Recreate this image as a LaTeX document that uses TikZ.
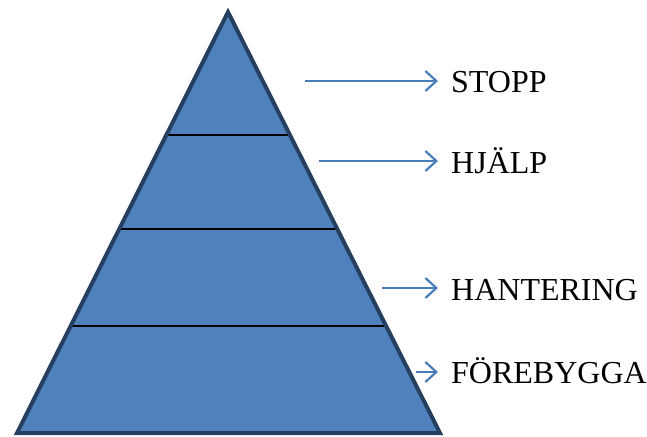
\documentclass[tikz,border=0pt]{standalone}
\usepackage{fontspec}
\setmainfont{Liberation Serif}
\usetikzlibrary{arrows.meta}
\definecolor{pfill}{HTML}{4F81BD}
\definecolor{pedge}{HTML}{243F60}
\definecolor{parrow}{HTML}{4A7EBB}
\tikzset{
  pyr/.style={fill=pfill,draw=pedge,line width=4pt,line join=miter},
  level/.style={draw=black,line width=2pt},
  lab/.style={anchor=base west,inner sep=0pt,font=\fontsize{32}{36}\selectfont},
  arr/.style={draw=parrow,line width=2.2pt,-{Straight Barb[length=11pt,width=20pt,line width=2.2pt]}}
}
\begin{document}
\begin{tikzpicture}[x=1pt,y=-1pt]
\useasboundingbox (0,0) rectangle (647,436);
\coordinate (apex) at (228,12);
\coordinate (bl) at (17,433);
\coordinate (br) at (440,433);
\fill[pfill] (apex) -- (bl) -- (br) -- cycle;
\coordinate (l1a) at (167,135); \coordinate (l1b) at (290,135);
\coordinate (l2a) at (120,229); \coordinate (l2b) at (337,229);
\coordinate (l3a) at (69,326);  \coordinate (l3b) at (384,326);
\draw[level] (l1a) -- (l1b);
\draw[level] (l2a) -- (l2b);
\draw[level] (l3a) -- (l3b);
\draw[pyr,fill=none] (apex) -- (bl) -- (br) -- cycle;
\node[lab] (t1) at (451,92) {STOPP};
\node[lab] (t2) at (451,173) {HJÄLP};
\node[lab] (t3) at (451,300) {HANTERING};
\node[lab] (t4) at (451,383) {FÖREBYGGA};
\coordinate (s1) at (305,81);
\coordinate (s2) at (319,161);
\coordinate (s3) at (382,288);
\coordinate (s4) at (416,372);
\coordinate (e1) at (438,81);
\coordinate (e2) at (438,161);
\coordinate (e3) at (438,288);
\coordinate (e4) at (438,372);
\draw[arr] (s1) -- (e1);
\draw[arr] (s2) -- (e2);
\draw[arr] (s3) -- (e3);
\draw[arr] (s4) -- (e4);
\end{tikzpicture}
\end{document}
